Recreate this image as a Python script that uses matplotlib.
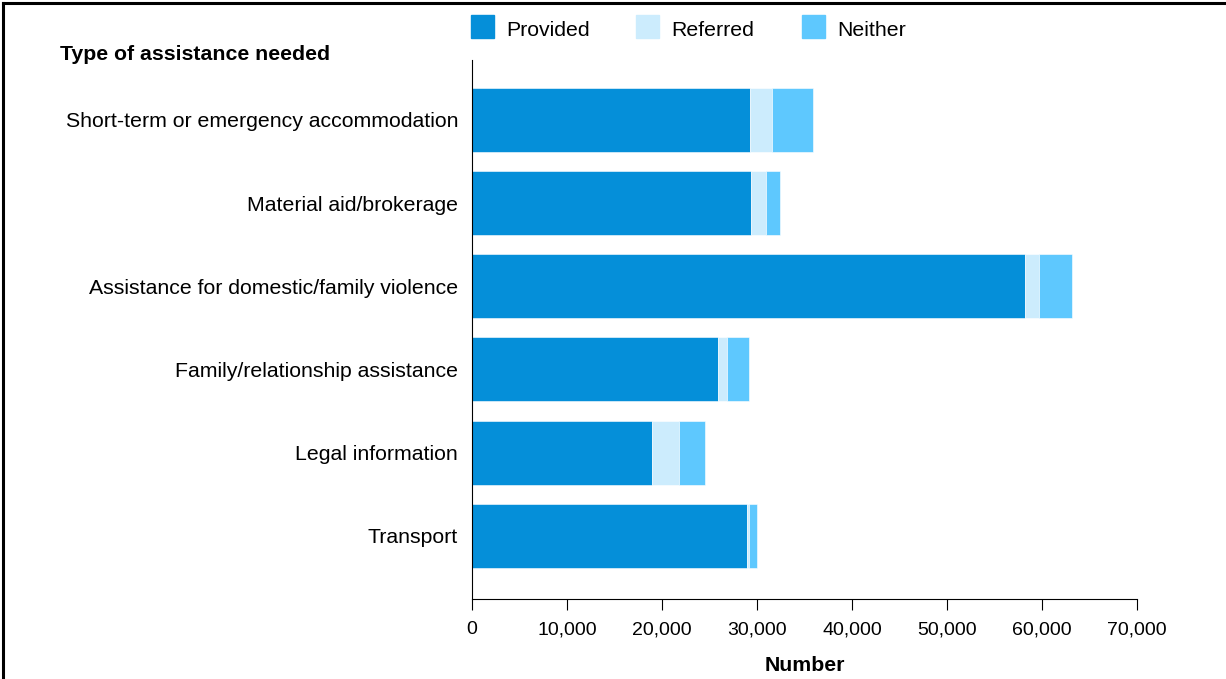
"""Horizontal stacked bars: type of assistance needed, by whether it was provided."""
import matplotlib.pyplot as plt
from matplotlib.lines import Line2D
from matplotlib.patches import Rectangle
from matplotlib.ticker import FuncFormatter

plt.rcParams["font.family"] = ["Liberation Sans", "DejaVu Sans"]

CATEGORIES = [
    "Short-term or emergency accommodation",
    "Material aid/brokerage",
    "Assistance for domestic/family violence",
    "Family/relationship assistance",
    "Legal information",
    "Transport",
]
SERIES = ["Provided", "Referred", "Neither"]
PROVIDED = [29230, 29340, 58190, 25860, 18900, 28920]
REFERRED = [2360, 1580, 1480, 950, 2880, 280]
NEITHER = [4350, 1550, 3450, 2390, 2740, 770]
COLORS = ["#058fd9", "#ccecfd", "#5ec8fe"]

X_TICKS = list(range(0, 70001, 10000))
TEXT_SIZE = 15.3


def main() -> None:
    fig = plt.figure(figsize=(12.26, 6.79), dpi=100)
    ax = fig.add_axes([0.385, 0.1178, 0.5424, 0.7938])

    positions = list(range(len(CATEGORIES)))
    left = [0] * len(CATEGORIES)
    for values, color in zip([PROVIDED, REFERRED, NEITHER], COLORS):
        ax.barh(positions, values, left=left, height=0.77, color=color,
                edgecolor="white", linewidth=0.4)
        left = [a + b for a, b in zip(left, values)]

    ax.set_ylim(len(CATEGORIES) - 0.24, -0.72)
    ax.set_xlim(0, 70000)
    ax.set_yticks(positions)
    ax.set_yticklabels(CATEGORIES, fontsize=TEXT_SIZE)
    ax.tick_params(axis="y", length=0, pad=10)
    ax.set_xticks(X_TICKS)
    ax.xaxis.set_major_formatter(FuncFormatter(lambda v, _: f"{int(v):,}"))
    ax.tick_params(axis="x", labelsize=14, length=8, width=0.8, pad=8)
    for side in ("top", "right"):
        ax.spines[side].set_visible(False)
    for side in ("left", "bottom"):
        ax.spines[side].set_linewidth(0.8)
    ax.set_xlabel("Number", fontsize=TEXT_SIZE, fontweight="bold", labelpad=13)

    fig.text(60 / 1226, 1 - 54 / 679, "Type of assistance needed", fontsize=TEXT_SIZE,
             fontweight="bold", va="center", ha="left")

    # legend along the top
    legend_x = [471, 636, 802]
    for name, color, x in zip(SERIES, COLORS, legend_x):
        fig.patches.append(Rectangle((x / 1226, 1 - 38 / 679), 23 / 1226, 23 / 679,
                                     transform=fig.transFigure, color=color))
        fig.text((x + 35) / 1226, 1 - 30 / 679, name, fontsize=TEXT_SIZE,
                 va="center", ha="left")

    # frame on top and left edge
    fig.add_artist(Line2D([3 / 1226, 3 / 1226], [0, 1 - 3 / 679],
                          transform=fig.transFigure, color="black", linewidth=2.2))
    fig.add_artist(Line2D([3 / 1226, 1], [1 - 3 / 679, 1 - 3 / 679],
                          transform=fig.transFigure, color="black", linewidth=2.2))

    fig.savefig("out.png", dpi=100)


if __name__ == "__main__":
    main()
